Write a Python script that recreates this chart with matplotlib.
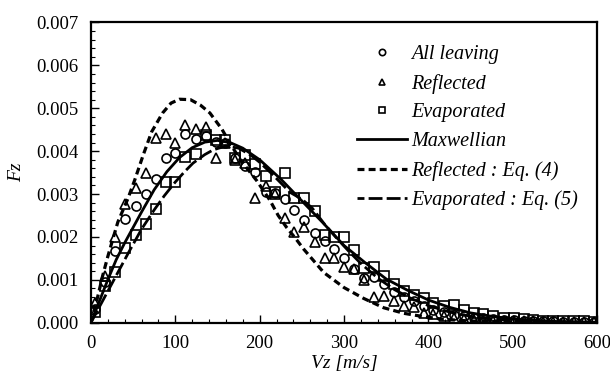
import numpy as np
import matplotlib
matplotlib.use("Agg")
import matplotlib.pyplot as plt
from matplotlib.ticker import MultipleLocator, FormatStrFormatter
from matplotlib.lines import Line2D

# -- style --
plt.rcParams["font.family"] = ["Liberation Serif", "DejaVu Serif"]
plt.rcParams["lines.scale_dashes"] = False
INK = "black"

# -- measured points (Vz in m/s, Fz) --
vz_bins = [5, 17, 29, 41, 53, 65, 77, 89, 100, 112, 124, 136, 148, 159, 171,
           183, 195, 207, 218, 230, 241, 253, 265, 277, 288, 300, 312, 324,
           336, 347, 359, 371, 383, 395, 406, 418, 430, 442, 454, 465, 477,
           489, 501, 513, 524, 536, 548, 560, 572, 584, 596]

all_leaving = [0.32, 0.95, 1.68, 2.42, 2.73, 3.00, 3.35, 3.85, 3.96, 4.40,
               4.28, 4.35, 4.22, 4.18, 3.85, 3.66, 3.52, 3.05, 3.02, 2.89,
               2.62, 2.40, 2.10, 1.90, 1.72, 1.50, 1.25, 1.05, 1.07, 0.90,
               0.72, 0.60, 0.50, 0.38, 0.30, 0.24, 0.19, 0.15, 0.12, 0.10,
               0.08, 0.07, 0.06, 0.05, 0.04, 0.03, 0.03, 0.02, 0.02, 0.02, 0.01]

reflected = [0.45, 1.10, 2.00, 2.77, 3.13, 3.50, 4.30, 4.40, 4.19, 4.60,
             4.52, 4.56, 3.84, 4.20, 3.80, 3.72, 2.90, 3.19, 3.00, 2.45,
             2.12, 2.24, 1.88, 1.52, 1.52, 1.30, 1.25, 1.00, 0.61, 0.62,
             0.50, 0.38, 0.36, 0.22, 0.20, 0.15, 0.10, 0.08, 0.07, 0.06,
             0.05, 0.04, 0.04, 0.03, 0.03, 0.02, 0.02, 0.02, 0.01, 0.01, 0.01]

evaporated = [0.25, 0.85, 1.19, 1.75, 2.05, 2.30, 2.64, 3.27, 3.28, 3.87,
              3.94, 4.38, 4.25, 4.26, 3.85, 3.90, 3.70, 3.43, 3.05, 3.50,
              2.90, 2.90, 2.60, 2.05, 2.00, 1.99, 1.70, 1.28, 1.30, 1.08,
              0.90, 0.75, 0.65, 0.57, 0.45, 0.38, 0.41, 0.30, 0.22, 0.20,
              0.15, 0.12, 0.10, 0.08, 0.07, 0.05, 0.05, 0.04, 0.03, 0.03, 0.02]

# -- curves --
maxw_v = [0, 10, 20, 30, 40, 50, 60, 75, 90, 105, 120, 135, 150, 165, 180,
          200, 225, 250, 275, 300, 325, 350, 375, 400, 425, 450, 475, 500,
          550, 600]
maxw_f = [0, 0.50, 1.00, 1.47, 1.86, 2.22, 2.58, 3.10, 3.52, 3.85, 4.08,
          4.21, 4.25, 4.20, 4.07, 3.80, 3.35, 2.84, 2.33, 1.80, 1.40, 1.02,
          0.76, 0.53, 0.36, 0.23, 0.15, 0.09, 0.03, 0.01]

refl_v = [0, 8, 14, 20, 26, 32, 44, 52, 62, 72, 85, 95, 105, 118, 130, 141,
          155, 165, 177, 197, 212, 222, 232, 242, 252, 276, 300, 323, 347,
          371, 395, 418, 450, 500, 550, 600]
refl_f = [0, 0.60, 1.10, 1.54, 1.95, 2.35, 2.90, 3.33, 3.91, 4.45, 4.89,
          5.12, 5.21, 5.20, 5.07, 4.89, 4.52, 4.18, 3.80, 3.30, 2.86, 2.50,
          2.22, 1.98, 1.72, 1.17, 0.82, 0.57, 0.35, 0.22, 0.14, 0.08, 0.04,
          0.02, 0.01, 0.0]

evap_v = [0, 15, 30, 45, 60, 75, 87, 100, 111, 121, 135, 145, 160, 175, 190,
          200, 214, 222, 236, 250, 262, 276, 290, 305, 320, 340, 360, 380,
          400, 425, 450, 475, 500, 550, 600]
evap_f = [0, 0.55, 1.10, 1.65, 2.18, 2.63, 2.96, 3.28, 3.52, 3.72, 3.92,
          4.03, 4.12, 4.07, 3.90, 3.74, 3.48, 3.32, 3.04, 2.88, 2.68, 2.32,
          2.00, 1.68, 1.38, 1.04, 0.77, 0.56, 0.40, 0.25, 0.15, 0.09, 0.05,
          0.02, 0.005]

SCALE = 1e-3

fig = plt.figure(figsize=(6.1, 3.74), dpi=100, facecolor="white")
ax = fig.add_axes([0.149, 0.137, 0.830, 0.803])

mk = dict(linestyle="none", markerfacecolor="none", markeredgecolor=INK,
          markeredgewidth=1.2, markersize=6.5)
ax.plot(vz_bins, np.array(all_leaving) * SCALE, marker="o", **mk)
ax.plot(vz_bins, np.array(reflected) * SCALE, marker="^", **mk)
ax.plot(vz_bins, np.array(evaporated) * SCALE, marker="s", **mk)

ax.plot(maxw_v, np.array(maxw_f) * SCALE, color=INK, linewidth=2.0)
ax.plot(refl_v, np.array(refl_f) * SCALE, color=INK, linewidth=2.3,
        linestyle=(0, (5, 3)))
ax.plot(evap_v, np.array(evap_f) * SCALE, color=INK, linewidth=2.0,
        linestyle=(0, (10, 3)))

ax.set_xlim(0, 600)
ax.set_ylim(0, 0.007)
ax.xaxis.set_major_locator(MultipleLocator(100))
ax.xaxis.set_minor_locator(MultipleLocator(20))
ax.yaxis.set_major_locator(MultipleLocator(0.001))
ax.yaxis.set_minor_locator(MultipleLocator(0.0002))
ax.yaxis.set_major_formatter(FormatStrFormatter("%.3f"))
ax.tick_params(which="both", direction="in", top=False, right=False,
               labelsize=13.5, colors=INK)
ax.tick_params(which="major", length=6, width=1.0, pad=9)
ax.tick_params(which="minor", length=3, width=0.8)
for spine in ax.spines.values():
    spine.set_linewidth(1.6)

ax.set_xlabel("Vz [m/s]", fontsize=14, style="italic", labelpad=2)
ax.set_ylabel("Fz", fontsize=14, style="italic", labelpad=8)

# -- legend --
handles = [
    Line2D([], [], marker="o", **mk),
    Line2D([], [], marker="^", **mk),
    Line2D([], [], marker="s", **mk),
    Line2D([], [], color=INK, linewidth=2.0),
    Line2D([], [], color=INK, linewidth=2.3, linestyle=(0, (5, 3))),
    Line2D([], [], color=INK, linewidth=2.0, linestyle=(5, (10, 3))),
]
labels = ["All leaving", "Reflected", "Evaporated", "Maxwellian",
          "Reflected : Eq. (4)", "Evaporated : Eq. (5)"]
fig.legend(handles, labels, loc="upper left",
           bbox_to_anchor=(0.585, 0.88), frameon=False,
           prop={"size": 14.5, "style": "italic"}, markerscale=0.7,
           handlelength=2.5, handletextpad=0.2, labelspacing=0.48,
           borderpad=0, borderaxespad=0)

fig.savefig("out.png", dpi=100, facecolor="white")
